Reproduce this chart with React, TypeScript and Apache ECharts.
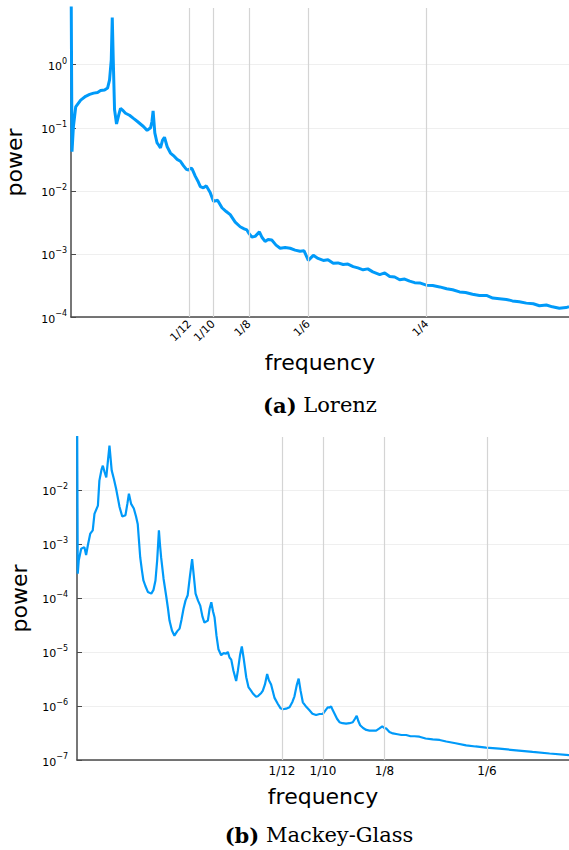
import React, { useEffect, useRef } from "react";
import * as echarts from "echarts";

// ---------- (a) Lorenz ----------
const lorenzFreq = [
  0.0, 0.0007, 0.0017, 0.0033, 0.0068, 0.0103, 0.0131, 0.0159, 0.0187, 0.0208,
  0.0236, 0.0257, 0.0271, 0.0283, 0.029, 0.0297, 0.0306, 0.032, 0.0336, 0.0348,
  0.0362, 0.0383, 0.0411, 0.0439, 0.0467, 0.0488, 0.0509, 0.0535, 0.0559, 0.0569,
  0.0577, 0.0589, 0.0605, 0.0618, 0.0629, 0.0643, 0.0657, 0.0676, 0.0699, 0.072,
  0.0746, 0.0769, 0.079, 0.0811, 0.0827, 0.0839, 0.0851, 0.0874, 0.0895, 0.0909,
  0.093, 0.0951, 0.0979, 0.1002, 0.103, 0.1061, 0.1091, 0.1119, 0.1154, 0.1189,
  0.1217, 0.1236, 0.1252, 0.1271, 0.1294, 0.1324, 0.1343, 0.1364, 0.1385, 0.1411,
  0.1441, 0.147, 0.1505, 0.154, 0.1575, 0.161, 0.1638, 0.1668, 0.1703, 0.1736,
  0.1773, 0.1806, 0.1843, 0.1876, 0.1913, 0.1946, 0.1983, 0.2016, 0.2053, 0.2086,
  0.2121, 0.217, 0.2205, 0.224, 0.2275, 0.231, 0.2345, 0.238, 0.2415, 0.2451,
  0.2497, 0.2542, 0.2591, 0.264, 0.2682, 0.2731, 0.2773, 0.2822, 0.2871, 0.292,
  0.2964, 0.3011, 0.306, 0.3102, 0.3151, 0.32, 0.3249, 0.3292, 0.3341, 0.3383,
  0.3432, 0.3479, 0.35,
];
const lorenzPower = [
  50, 4.17e-2, 1.05e-1, 2.14e-1, 2.75e-1, 3.16e-1, 3.39e-1, 3.55e-1, 3.63e-1, 3.89e-1,
  3.98e-1, 4.27e-1, 5.75e-1, 1.2, 5.62, 1.2, 1.95e-1, 1.15e-1, 1.62e-1, 2.04e-1,
  1.91e-1, 1.7e-1, 1.58e-1, 1.41e-1, 1.26e-1, 1.15e-1, 1.05e-1, 9.1e-2, 1.0e-1, 1.26e-1,
  1.86e-1, 8.3e-2, 5.75e-2, 5.25e-2, 4.79e-2, 6.31e-2, 7.08e-2, 5.01e-2, 3.98e-2, 3.63e-2,
  3.16e-2, 2.95e-2, 2.51e-2, 2.19e-2, 2.14e-2, 2.29e-2, 2.24e-2, 1.7e-2, 1.38e-2, 1.17e-2,
  1.12e-2, 1.2e-2, 9.3e-3, 6.8e-3, 7.1e-3, 5.4e-3, 4.7e-3, 4.2e-3, 3.2e-3, 2.7e-3,
  2.5e-3, 2.4e-3, 2.1e-3, 1.86e-3, 1.9e-3, 2.24e-3, 1.82e-3, 1.58e-3, 1.7e-3, 1.66e-3,
  1.38e-3, 1.23e-3, 1.26e-3, 1.23e-3, 1.15e-3, 1.1e-3, 1.12e-3, 7.9e-4, 9.5e-4, 8.5e-4,
  7.9e-4, 8.1e-4, 7.1e-4, 7.2e-4, 6.8e-4, 6.9e-4, 6.3e-4, 6.0e-4, 5.6e-4, 5.8e-4,
  5.2e-4, 4.7e-4, 5.0e-4, 4.4e-4, 4.3e-4, 3.9e-4, 4.0e-4, 3.7e-4, 3.5e-4, 3.47e-4,
  3.2e-4, 3.16e-4, 3.0e-4, 2.8e-4, 2.7e-4, 2.5e-4, 2.45e-4, 2.3e-4, 2.2e-4, 2.2e-4,
  2.0e-4, 1.95e-4, 1.9e-4, 1.8e-4, 1.74e-4, 1.66e-4, 1.62e-4, 1.51e-4, 1.55e-4, 1.45e-4,
  1.38e-4, 1.41e-4, 1.45e-4,
];
const lorenzTickValues = [1 / 12, 1 / 10, 1 / 8, 1 / 6, 1 / 4];
const lorenzTickLabels = ["1/12", "1/10", "1/8", "1/6", "1/4"];
const lorenzYTicks = [1e-4, 1e-3, 1e-2, 1e-1, 1];

// ---------- (b) Mackey-Glass ----------
const mgFreq = [
  0.0, 0.0003, 0.0007, 0.0017, 0.003, 0.0037, 0.0044, 0.0054, 0.0064, 0.0071,
  0.0085, 0.0091, 0.01, 0.0105, 0.0112, 0.0119, 0.0126, 0.0132, 0.0141, 0.015,
  0.0159, 0.0166, 0.0173, 0.0184, 0.0197, 0.0205, 0.0211, 0.022, 0.0231, 0.024,
  0.0247, 0.0257, 0.0264, 0.027, 0.0278, 0.0288, 0.0302, 0.0311, 0.0319, 0.0326,
  0.0333, 0.0337, 0.0342, 0.0352, 0.0363, 0.037, 0.0376, 0.0386, 0.0396, 0.0407,
  0.0417, 0.0425, 0.0433, 0.0441, 0.045, 0.0459, 0.0468, 0.0476, 0.0482, 0.0492,
  0.0501, 0.051, 0.0518, 0.0532, 0.0539, 0.0546, 0.0553, 0.0559, 0.0567, 0.0575,
  0.0586, 0.0596, 0.0606, 0.0613, 0.062, 0.0627, 0.0636, 0.0647, 0.0654, 0.0663,
  0.067, 0.0677, 0.0688, 0.0697, 0.0708, 0.0715, 0.0728, 0.0735, 0.0749, 0.0755,
  0.0764, 0.0773, 0.078, 0.0789, 0.0803, 0.0816, 0.0827, 0.0837, 0.085, 0.0864,
  0.0876, 0.0884, 0.0893, 0.0901, 0.0909, 0.0918, 0.0929, 0.0945, 0.0957, 0.0972,
  0.0986, 0.0999, 0.101, 0.102, 0.1026, 0.1033, 0.104, 0.1047, 0.1057, 0.1067,
  0.1079, 0.1094, 0.1108, 0.1121, 0.113, 0.1137, 0.1144, 0.1151, 0.1163, 0.1176,
  0.1189, 0.1203, 0.1216, 0.1228, 0.1241, 0.125, 0.1258, 0.127, 0.1284, 0.1303,
  0.1319, 0.1338, 0.1356, 0.1372, 0.1392, 0.1417, 0.1446, 0.1474, 0.1501, 0.1539,
  0.1582, 0.162, 0.1663, 0.1717, 0.1785, 0.1852, 0.1921, 0.2,
];
const mgPower = [
  1, 2.8e-4, 4.9e-4, 8.1e-4, 8.7e-4, 6.2e-4, 9.3e-4, 1.55e-3, 1.78e-3, 3.6e-3,
  5.1e-3, 1.48e-2, 2.4e-2, 2.8e-2, 2.14e-2, 1.7e-2, 3.55e-2, 6.6e-2, 2.29e-2, 1.58e-2,
  1.05e-2, 7.1e-3, 4.8e-3, 3.2e-3, 3.4e-3, 5.6e-3, 8.5e-3, 5.5e-3, 4.5e-3, 3.2e-3,
  2.3e-3, 5.6e-4, 3.2e-4, 2.1e-4, 1.66e-4, 1.29e-4, 1.2e-4, 1.41e-4, 2.1e-4, 5.0e-4,
  1.78e-3, 1.0e-3, 5.6e-4, 2.24e-4, 1.05e-4, 6.3e-5, 3.8e-5, 2.5e-5, 2.0e-5, 2.4e-5,
  2.7e-5, 4.0e-5, 6.3e-5, 8.9e-5, 1.12e-4, 2.5e-4, 5.2e-4, 2.24e-4, 1.2e-4, 8.9e-5,
  7.2e-5, 4.5e-5, 3.5e-5, 3.8e-5, 6.3e-5, 8.3e-5, 5.6e-5, 4.4e-5, 2.0e-5, 1.12e-5,
  8.7e-6, 9.5e-6, 9.3e-6, 1.0e-5, 7.9e-6, 7.2e-6, 4.5e-6, 2.9e-6, 4.5e-6, 8.9e-6,
  1.26e-5, 7.9e-6, 3.4e-6, 2.24e-6, 1.9e-6, 1.7e-6, 1.48e-6, 1.51e-6, 1.74e-6, 1.9e-6,
  2.5e-6, 3.9e-6, 3.0e-6, 2.5e-6, 1.41e-6, 1.1e-6, 9.1e-7, 8.7e-7, 8.9e-7, 9.5e-7,
  1.2e-6, 1.51e-6, 2.4e-6, 3.2e-6, 1.9e-6, 1.17e-6, 1.0e-6, 8.3e-7, 7.2e-7, 6.8e-7,
  7.1e-7, 7.1e-7, 8.3e-7, 9.5e-7, 9.3e-7, 9.8e-7, 8.3e-7, 7.2e-7, 5.8e-7, 5.0e-7,
  4.8e-7, 4.7e-7, 4.8e-7, 5.0e-7, 5.8e-7, 6.6e-7, 5.2e-7, 4.4e-7, 3.9e-7, 3.6e-7,
  3.5e-7, 3.5e-7, 3.5e-7, 3.8e-7, 4.2e-7, 3.9e-7, 3.8e-7, 3.3e-7, 3.1e-7, 3.0e-7,
  2.9e-7, 2.9e-7, 2.75e-7, 2.75e-7, 2.7e-7, 2.5e-7, 2.4e-7, 2.35e-7, 2.2e-7, 2.04e-7,
  1.86e-7, 1.78e-7, 1.7e-7, 1.62e-7, 1.51e-7, 1.41e-7, 1.32e-7, 1.23e-7,
];
const mgTickValues = [1 / 12, 1 / 10, 1 / 8, 1 / 6];
const mgTickLabels = ["1/12", "1/10", "1/8", "1/6"];
const mgYTicks = [1e-7, 1e-6, 1e-5, 1e-4, 1e-3, 1e-2];

const captionA = "Lorenz";
const captionB = "Mackey-Glass";

const BLUE = "#009AF9";
const AXIS = "#4a4a4a";
const FONT = "DejaVu Sans";
const SERIF = "DejaVu Serif";

function pairs(xs: number[], ys: number[]) {
  return xs.map((x, i) => [x, ys[i]]);
}

function fracLabel(values: number[], labels: string[]) {
  return (v: number) => {
    let best = 0;
    for (let i = 1; i < values.length; i++) {
      if (Math.abs(values[i] - v) < Math.abs(values[best] - v)) best = i;
    }
    return Math.abs(values[best] - v) < 1e-6 ? labels[best] : "";
  };
}

function powLabel(v: number) {
  const n = Math.round(Math.log10(v));
  const s = n < 0 ? "\u2212" + String(-n) : String(n);
  return "{b|10}{s|" + s + "}";
}

const yLabelRich = {
  b: { fontSize: 11, fontFamily: FONT, color: "#000", verticalAlign: "bottom" },
  s: { fontSize: 8, fontFamily: FONT, color: "#000", verticalAlign: "bottom", padding: [0, 0, 7, 0] },
};

function xAxisCfg(grid: number, max: number, ticks: number[], labels: string[], rotate: number, nameGap: number, fontSize: number) {
  return {
    type: "value",
    gridIndex: grid,
    min: 0,
    max,
    name: "frequency",
    nameLocation: "middle",
    nameGap,
    nameTextStyle: { fontSize: 22, color: "#000", fontFamily: FONT, verticalAlign: "top" },
    axisLine: { show: true, onZero: false, lineStyle: { color: AXIS, width: 1.5 } },
    axisTick: { show: true, inside: true, length: 5, customValues: ticks, lineStyle: { color: AXIS } },
    axisLabel: {
      customValues: ticks,
      formatter: fracLabel(ticks, labels),
      rotate,
      fontSize,
      fontFamily: FONT,
      color: "#000",
      margin: 5,
    },
    splitLine: { show: false },
  };
}

function yAxisCfg(grid: number, min: number, max: number, ticks: number[], nameGap: number, labelMargin: number) {
  return {
    type: "log",
    logBase: 10,
    gridIndex: grid,
    min,
    max,
    name: "power",
    nameLocation: "middle",
    nameGap,
    nameTextStyle: { fontSize: 22, color: "#000", fontFamily: FONT },
    axisLine: { show: true, lineStyle: { color: AXIS, width: 1.5 } },
    axisTick: { show: true, inside: true, length: 5, customValues: ticks, lineStyle: { color: AXIS } },
    axisLabel: {
      customValues: ticks,
      formatter: powLabel,
      margin: labelMargin,
      rich: yLabelRich,
    },
    splitLine: { show: true, lineStyle: { color: "#efefef", width: 1 } },
  };
}

function vLines(xi: number, ticks: number[], yMin: number, yMax: number) {
  return {
    type: "line",
    xAxisIndex: xi,
    yAxisIndex: xi,
    data: [],
    z: 1,
    silent: true,
    markLine: {
      silent: true,
      precision: 10,
      symbol: ["none", "none"],
      label: { show: false },
      emphasis: { disabled: true },
      lineStyle: { color: "#d4d4d4", width: 1.2, type: "solid" },
      data: ticks.map((v) => [{ coord: [v, yMin] }, { coord: [v, yMax] }]),
    },
  };
}

export default function App() {
  const ref = useRef<HTMLDivElement>(null);
  useEffect(() => {
    document.body.style.margin = "0";
    if (!ref.current) return;
    const chart = echarts.init(ref.current, null, { renderer: "svg" });
    chart.setOption({
      animation: false,
      backgroundColor: "#fff",
      textStyle: { fontFamily: FONT },
      grid: [
        { left: 71, top: 8, width: 498, height: 309, containLabel: false, outerBoundsMode: "none" },
        { left: 77, top: 437, width: 492, height: 323, containLabel: false, outerBoundsMode: "none" },
      ],
      xAxis: [
        xAxisCfg(0, 0.35, lorenzTickValues, lorenzTickLabels, 45, 34, 11),
        xAxisCfg(1, 0.2, mgTickValues, mgTickLabels, 0, 25, 12),
      ],
      yAxis: [
        yAxisCfg(0, 1e-4, 7.94, lorenzYTicks, 46, 4),
        yAxisCfg(1, 1e-7, 0.095, mgYTicks, 47, 9),
      ],
      series: [
        vLines(0, lorenzTickValues, 1e-4, 7.94),
        vLines(1, mgTickValues, 1e-7, 0.095),
        {
          type: "line",
          xAxisIndex: 0,
          yAxisIndex: 0,
          data: pairs(lorenzFreq, lorenzPower),
          showSymbol: false,
          symbol: "none",
          clip: true,
          z: 3,
          lineStyle: { color: BLUE, width: 3 },
        },
        {
          type: "line",
          xAxisIndex: 1,
          yAxisIndex: 1,
          data: pairs(mgFreq, mgPower),
          showSymbol: false,
          symbol: "none",
          clip: true,
          z: 3,
          lineStyle: { color: BLUE, width: 2.2 },
        },
      ],
      graphic: [
        {
          type: "text",
          x: 320,
          y: 405,
          style: {
            text: "{b|(a)} " + captionA,
            fill: "#000",
            fontSize: 21,
            fontFamily: SERIF,
            align: "center",
            verticalAlign: "middle",
            rich: { b: { fontWeight: "bold", fontSize: 21, fontFamily: SERIF } },
          },
        },
        {
          type: "text",
          x: 319,
          y: 835,
          style: {
            text: "{b|(b)} " + captionB,
            fill: "#000",
            fontSize: 21,
            fontFamily: SERIF,
            align: "center",
            verticalAlign: "middle",
            rich: { b: { fontWeight: "bold", fontSize: 21, fontFamily: SERIF } },
          },
        },
      ],
    });
    return () => chart.dispose();
  }, []);
  return (
    <div
      ref={ref}
      style={{ position: "absolute", left: 0, top: 0, width: 569, height: 850, background: "#fff" }}
    />
  );
}
